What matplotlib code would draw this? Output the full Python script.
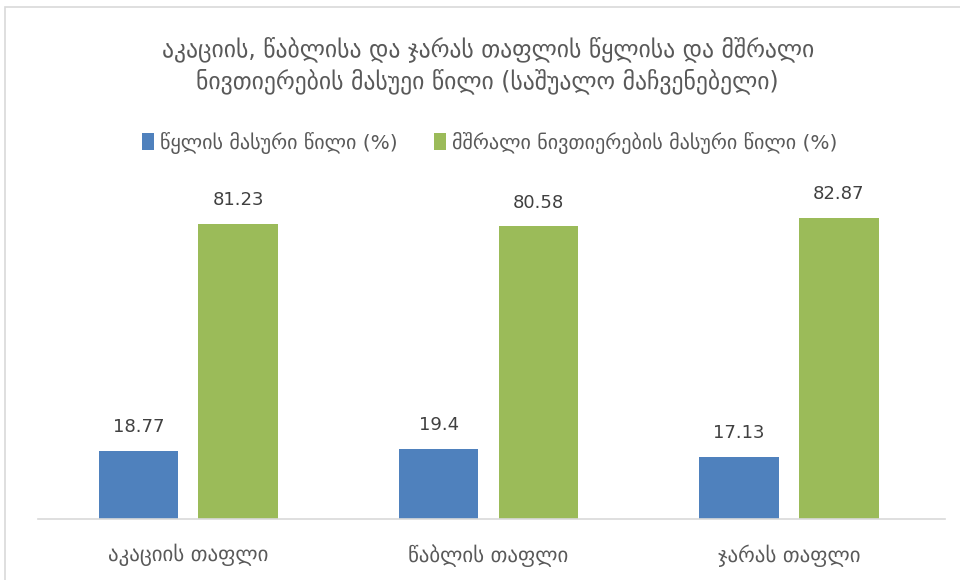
import matplotlib
matplotlib.use('Agg')
import matplotlib.pyplot as plt
import numpy as np
from matplotlib.patches import Rectangle

# data
categories = ['აკაციის თაფლი', 'წაბლის თაფლი', 'ჯარას თაფლი']
water = [18.77, 19.4, 17.13]
dry = [81.23, 80.58, 82.87]
series_names = ['წყლის მასური წილი (%)', 'მშრალი ნივთიერების მასური წილი (%)']
title = 'აკაციის, წაბლისა და ჯარას თაფლის წყლისა და მშრალი\nნივთიერების მასუეი წილი (საშუალო მაჩვენებელი)'

plt.rcParams['font.family'] = ['DejaVu Sans']

fig = plt.figure(figsize=(9.6, 5.8), dpi=100)
ax = fig.add_axes([0.0396, 0.105, 0.9448, 0.564])

x = np.arange(len(categories))
w = 0.265
b1 = ax.bar(x - 0.166, water, w, color='#4f81bd', label=series_names[0])
b2 = ax.bar(x + 0.166, dry, w, color='#9bbb59', label=series_names[1])

# value labels
for bars in (b1, b2):
    for r in bars:
        v = r.get_height()
        ax.text(r.get_x() + r.get_width() / 2, v + 4, f'{v:g}', ha='center', va='bottom',
                fontsize=13, color='#404040')

ax.set_xlim(-0.5, 2.52)
ax.set_ylim(0, 90)
ax.set_yticks([])
ax.set_xticks(x)
ax.set_xticklabels(categories, fontsize=15, color='#595959')
ax.tick_params(axis='x', length=0, pad=18)
for s in ['top', 'right', 'left']:
    ax.spines[s].set_visible(False)
ax.spines['bottom'].set_color('#d9d9d9')
ax.spines['bottom'].set_linewidth(1.2)

fig.text(0.508, 0.888, title, ha='center', va='center', fontsize=17, color='#595959',
         linespacing=1.3)

fig.legend(loc='center', bbox_to_anchor=(0.51, 0.754), ncol=2, frameon=False,
           fontsize=14.5, handlelength=0.6, handleheight=0.9, handletextpad=0.3,
           columnspacing=1.8, labelcolor='#595959')

# chart border
fig.patches.append(Rectangle((0.005, -0.01), 1.1, 0.998, transform=fig.transFigure,
                             fill=False, edgecolor='#d9d9d9', linewidth=1.2))

fig.savefig('out.png', dpi=100)
